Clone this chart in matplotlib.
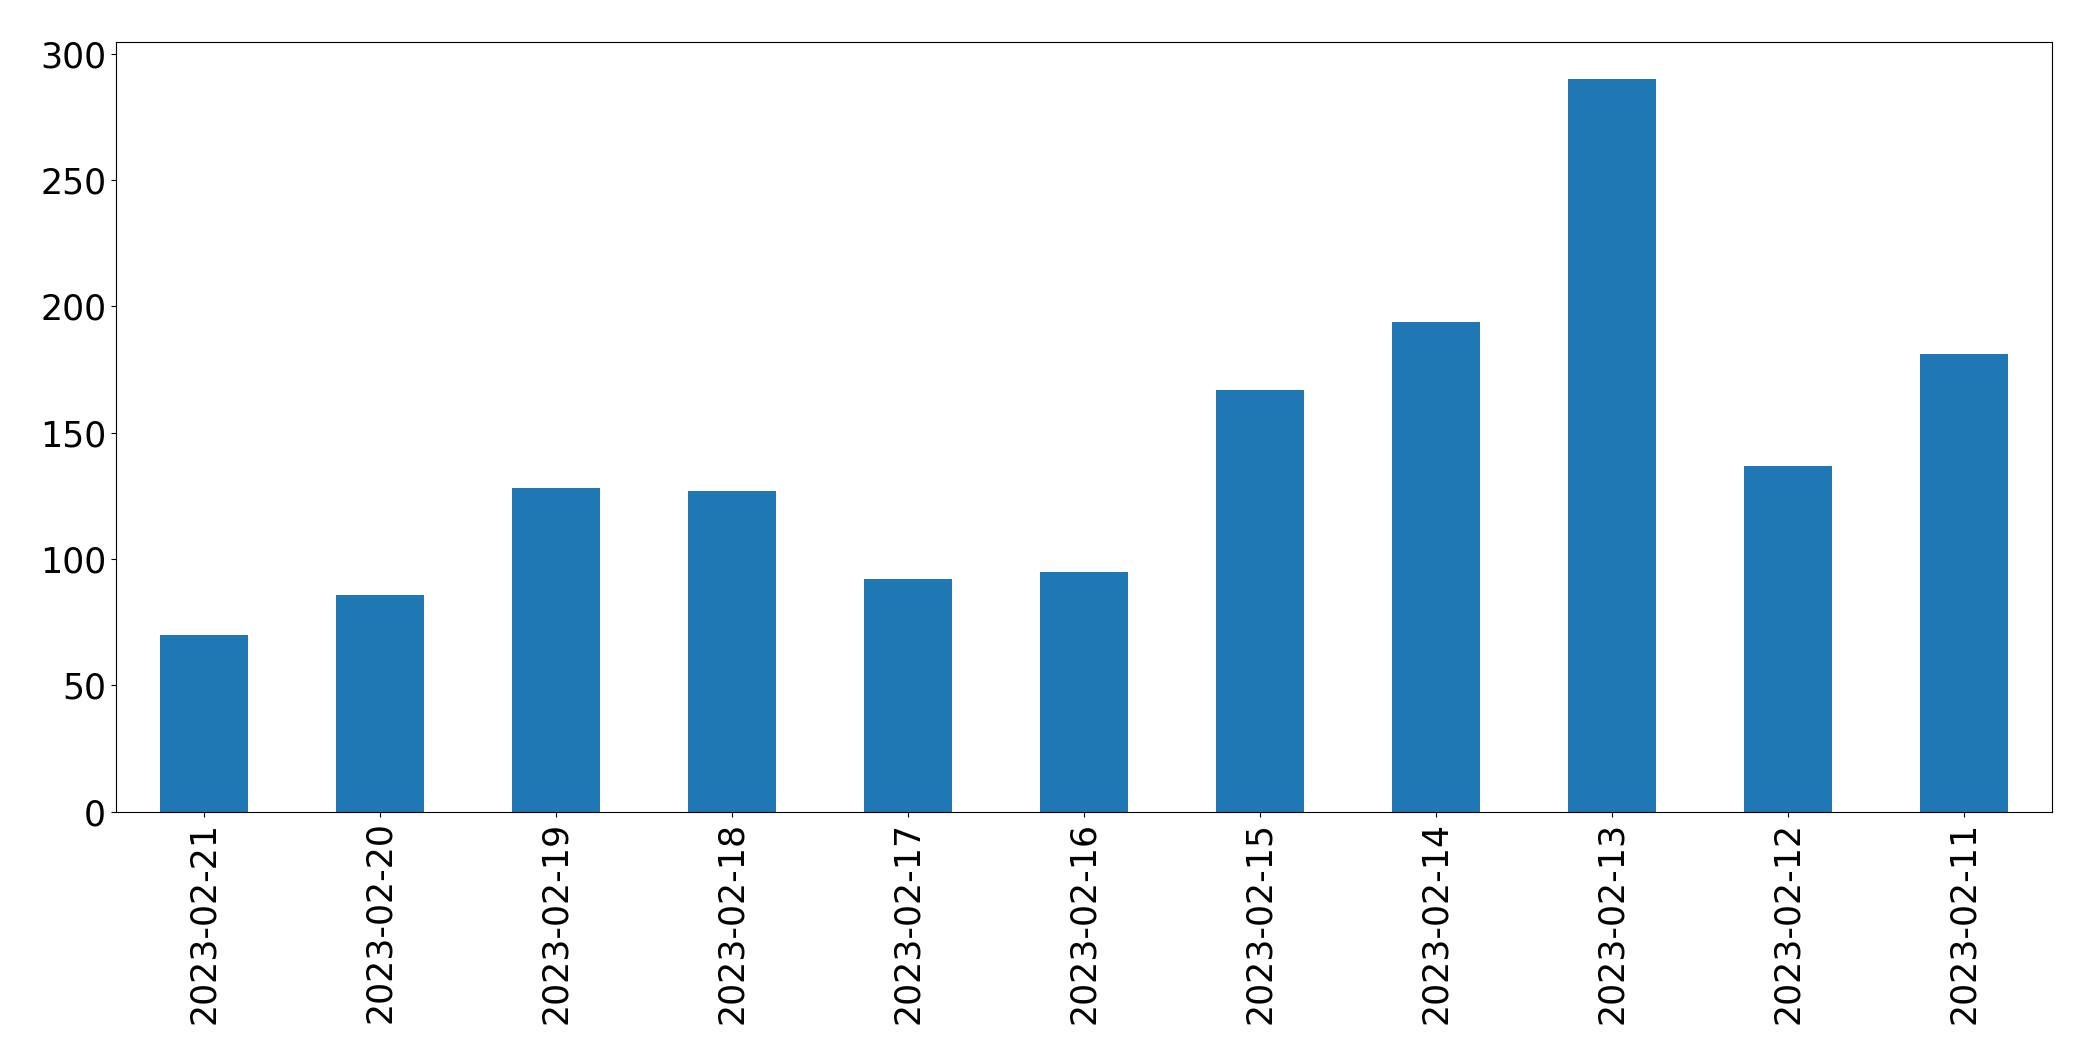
import pandas as pd
import matplotlib
matplotlib.use("Agg")
import matplotlib.pyplot as plt

# daily counts, newest first
dates = ["2023-02-21", "2023-02-20", "2023-02-19", "2023-02-18", "2023-02-17",
         "2023-02-16", "2023-02-15", "2023-02-14", "2023-02-13", "2023-02-12",
         "2023-02-11"]
counts = [70, 86, 128, 127, 92, 95, 167, 194, 290, 137, 181]

s = pd.Series(counts, index=dates)

fig = plt.figure(figsize=(20.93, 10.64), dpi=100)
ax = fig.add_axes([0.0554, 0.237, 0.925, 0.7232])
s.plot.bar(ax=ax, color="#1f77b4")
ax.tick_params(axis="both", labelsize=25)

fig.savefig("out.png", dpi=100)
